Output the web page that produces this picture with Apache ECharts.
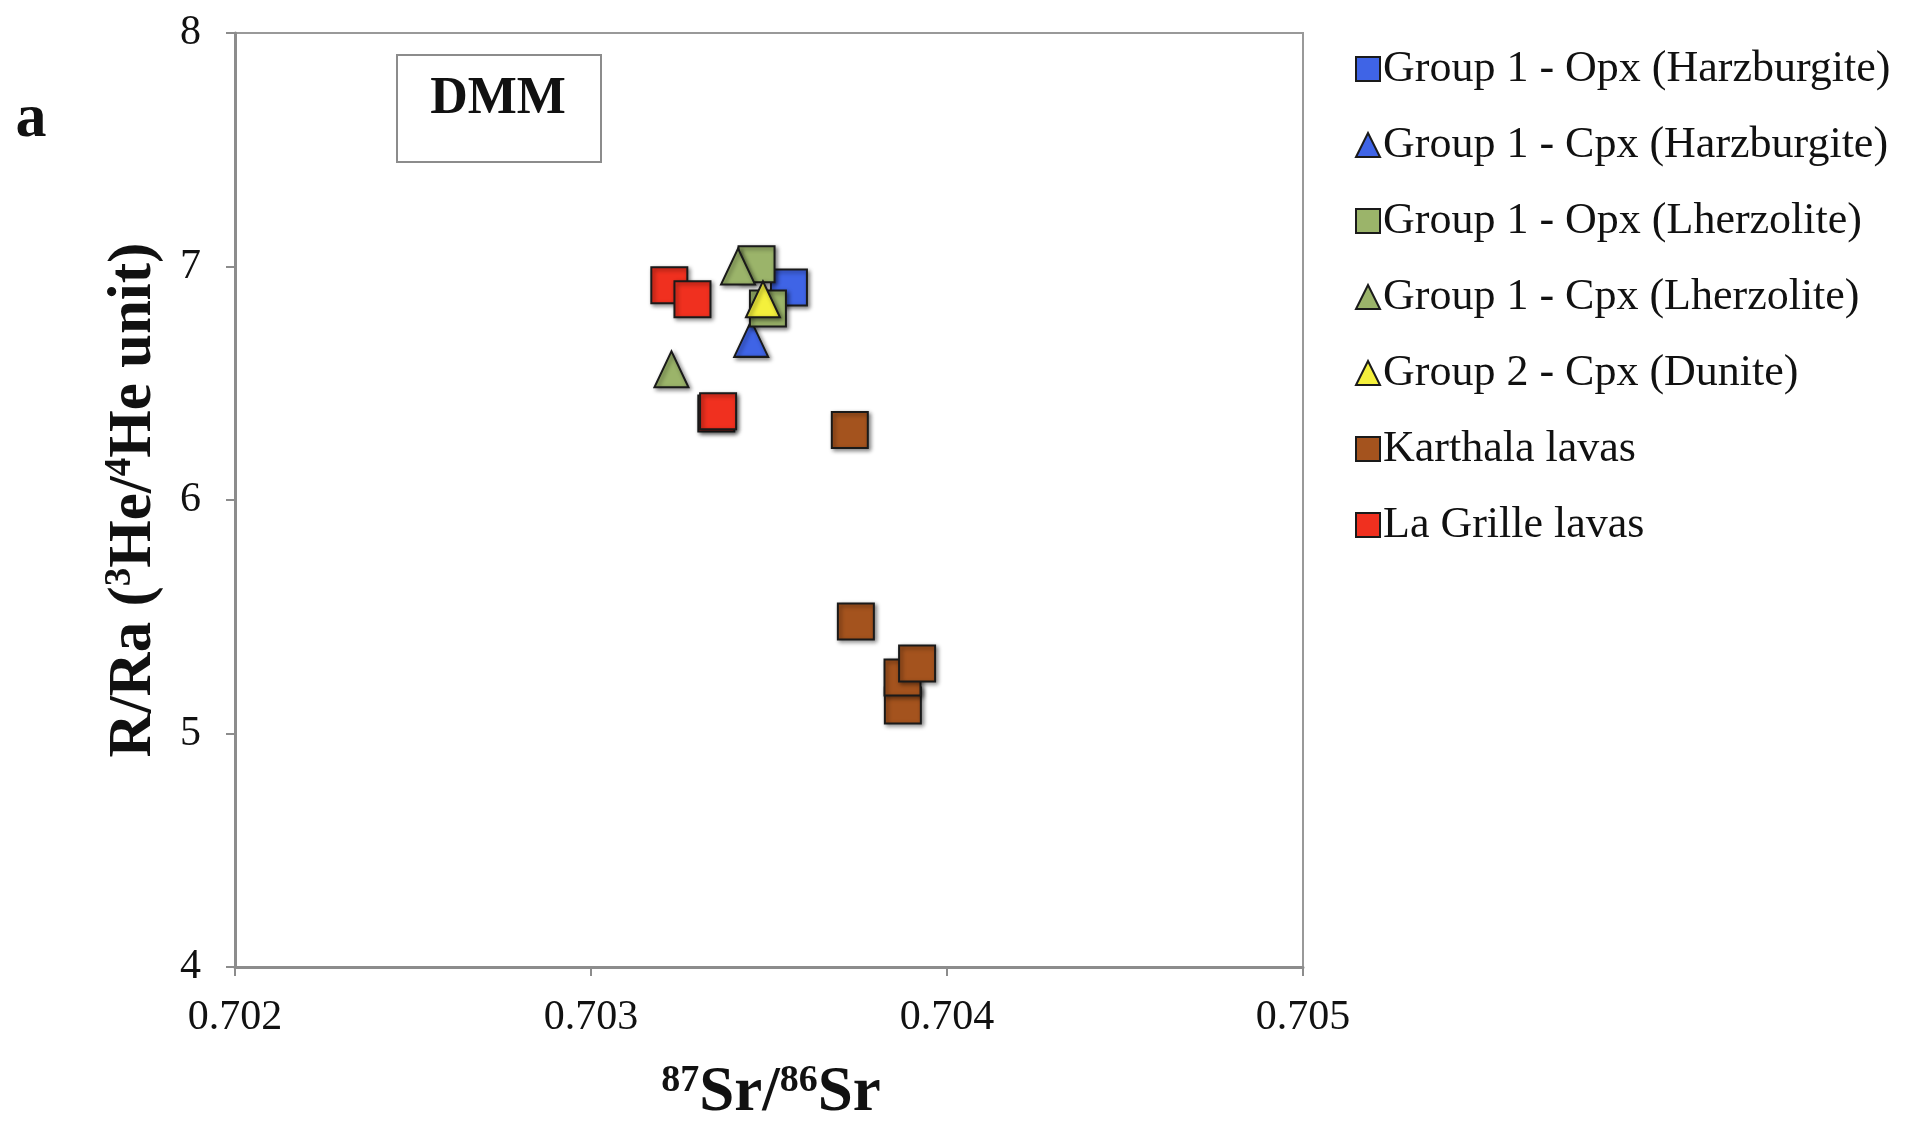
<!DOCTYPE html>
<html>
<head>
<meta charset="utf-8">
<script src="https://cdn.jsdelivr.net/npm/echarts@6/dist/echarts.min.js"></script>
<style>
  html, body { margin: 0; padding: 0; background: #fff; }
  #chart { width: 1913px; height: 1122px; }
</style>
</head>
<body>
<div id="chart"></div>
<script>
// axis ticks
const xTicks = [0.702, 0.703, 0.704, 0.705];
const yTicks = [4, 5, 6, 7, 8];

// series names (legend order)
const seriesNames = [
  'Group 1 - Opx (Harzburgite)',
  'Group 1 - Cpx (Harzburgite)',
  'Group 1 - Opx (Lherzolite)',
  'Group 1 - Cpx (Lherzolite)',
  'Group 2 - Cpx (Dunite)',
  'Karthala lavas',
  'La Grille lavas'
];

// data: [87Sr/86Sr, R/Ra]
const opxHarz = [[0.703556, 6.91]];
const cpxHarz = [[0.703450, 6.69]];
const opxLherz = [[0.703465, 7.01], [0.703497, 6.82]];
const cpxLherz = [[0.703413, 7.00], [0.703226, 6.56]];
const cpxDunite = [[0.703483, 6.86]];
const karthala = [[0.703727, 6.30], [0.703744, 5.48], [0.703876, 5.12], [0.703875, 5.24], [0.703916, 5.30]];
const laGrille = [[0.703220, 6.92], [0.703285, 6.86], [0.703352, 6.37], [0.703357, 6.38]];

const font = 'Liberation Serif';

function makeSeries(name, data, symbol, color) {
  return {
    name: name,
    type: 'scatter',
    data: data,
    symbol: symbol,
    symbolSize: symbol === 'rect' ? 36 : [34, 36],
    itemStyle: {
      color: color,
      opacity: 1,
      borderColor: '#1a1a1a',
      borderWidth: 2,
      shadowBlur: 4,
      shadowOffsetX: 2,
      shadowOffsetY: 2,
      shadowColor: 'rgba(0,0,0,0.45)'
    },
    emphasis: { disabled: true }
  };
}

const chart = echarts.init(document.getElementById('chart'));

const option = {
  backgroundColor: '#fff',
  animation: false,
  grid: {
    left: 235, top: 33, right: 610, bottom: 155,
    show: true, borderColor: '#999', borderWidth: 2
  },
  xAxis: {
    type: 'value',
    min: xTicks[0], max: xTicks[xTicks.length - 1], interval: 0.001,
    splitLine: { show: false },
    axisLine: { lineStyle: { color: '#8c8c8c', width: 3 } },
    axisTick: { show: true, length: 9, lineStyle: { color: '#8c8c8c', width: 2 } },
    axisLabel: {
      margin: 30, color: '#111', fontFamily: font, fontSize: 42,
      formatter: v => v.toFixed(3)
    }
  },
  yAxis: {
    type: 'value',
    min: yTicks[0], max: yTicks[yTicks.length - 1], interval: 1,
    splitLine: { show: false },
    axisLine: { show: true, lineStyle: { color: '#8c8c8c', width: 3 } },
    axisTick: { show: true, length: 9, lineStyle: { color: '#8c8c8c', width: 2 } },
    axisLabel: { margin: 34, color: '#111', fontFamily: font, fontSize: 42 }
  },
  legend: {
    orient: 'vertical',
    left: 1350, top: 42,
    itemWidth: 24, itemHeight: 24, itemGap: 32,
    textStyle: { fontFamily: font, fontSize: 44, color: '#111', lineHeight: 44, padding: [0, 0, 0, -2] },
    data: seriesNames
  },
  graphic: [
    {
      type: 'rect',
      shape: { x: 397, y: 55, width: 204, height: 107 },
      style: { fill: '#fff', stroke: '#8c8c8c', lineWidth: 2 }
    },
    {
      type: 'text', x: 498, y: 100,
      style: { text: 'DMM', fontFamily: font, fontWeight: 'bold', fontSize: 52, fill: '#111', align: 'center', verticalAlign: 'middle' }
    },
    {
      type: 'text', x: 31, y: 120,
      style: { text: 'a', fontFamily: font, fontWeight: 'bold', fontSize: 62, fill: '#111', align: 'center', verticalAlign: 'middle' }
    },
    {
      type: 'text', x: 134, y: 500, rotation: Math.PI / 2,
      style: {
        text: '{b|R/Ra (}{s|3}{b|He/}{s|4}{b|He unit)}',
        align: 'center', verticalAlign: 'middle',
        rich: {
          b: { fontFamily: font, fontWeight: 'bold', fontSize: 61, fill: '#111', lineHeight: 64 },
          s: { fontFamily: font, fontWeight: 'bold', fontSize: 37, fill: '#111', lineHeight: 64, verticalAlign: 'top', padding: [0, 0, 24, 0] }
        }
      }
    },
    {
      type: 'text', x: 771, y: 1094,
      style: {
        text: '{s|87}{b|Sr/}{s|86}{b|Sr}',
        align: 'center', verticalAlign: 'middle',
        rich: {
          b: { fontFamily: font, fontWeight: 'bold', fontSize: 63, fill: '#111', lineHeight: 64 },
          s: { fontFamily: font, fontWeight: 'bold', fontSize: 38, fill: '#111', lineHeight: 64, verticalAlign: 'top', padding: [0, 0, 24, 0] }
        }
      }
    }
  ],
  series: [
    makeSeries(seriesNames[0], opxHarz, 'rect', '#3f64e6'),
    makeSeries(seriesNames[1], cpxHarz, 'triangle', '#3f64e6'),
    makeSeries(seriesNames[2], opxLherz, 'rect', '#9bb46a'),
    makeSeries(seriesNames[3], cpxLherz, 'triangle', '#9bb46a'),
    makeSeries(seriesNames[4], cpxDunite, 'triangle', '#f4f03c'),
    makeSeries(seriesNames[5], karthala, 'rect', '#a4531e'),
    makeSeries(seriesNames[6], laGrille, 'rect', '#f0301f')
  ]
};

chart.setOption(option);
</script>
</body>
</html>
